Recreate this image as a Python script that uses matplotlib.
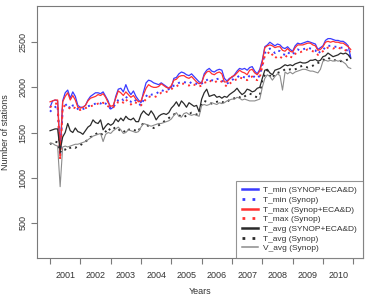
import numpy as np
import matplotlib
matplotlib.use("Agg")
import matplotlib.pyplot as plt

years = [2001, 2002, 2003, 2004, 2005, 2006, 2007, 2008, 2009, 2010]

tmin_all = [1780, 1850, 1860, 1850, 1300, 1850, 1940, 1970, 1880, 1950, 1900, 1800,
            1780, 1780, 1800, 1860, 1900, 1920, 1940, 1940, 1930, 1950, 1900, 1850,
            1760, 1780, 1900, 1980, 1990, 1950, 2030, 1960, 1920, 1960, 1900, 1860,
            1830, 1950, 2050, 2080, 2070, 2050, 2040, 2030, 2050, 2030, 2010, 1990,
            2000, 2100, 2110, 2150, 2170, 2160, 2140, 2130, 2150, 2120, 2090, 2060,
            2050, 2150, 2190, 2210, 2180, 2170, 2190, 2200, 2190, 2100, 2070, 2100,
            2110, 2140, 2180, 2210, 2200, 2210, 2190, 2220, 2230, 2180, 2150, 2200,
            2300, 2450, 2470, 2500, 2480, 2460, 2480, 2470, 2440, 2430, 2450, 2420,
            2400, 2460, 2490, 2480, 2490, 2500, 2510, 2500, 2490, 2480, 2420, 2440,
            2460, 2520, 2540, 2540, 2530, 2520, 2520, 2510, 2510, 2490, 2460, 2330]

tmin_syn = [1730, 1760, 1780, 1800, 1240, 1760, 1800, 1820, 1760, 1800, 1790, 1760,
            1750, 1760, 1770, 1790, 1800, 1810, 1820, 1830, 1820, 1840, 1820, 1800,
            1760, 1780, 1820, 1860, 1880, 1860, 1900, 1860, 1840, 1870, 1850, 1820,
            1800, 1860, 1900, 1930, 1920, 1920, 1930, 1950, 1970, 1960, 1970, 1980,
            1990, 2020, 2030, 2050, 2060, 2060, 2050, 2040, 2060, 2050, 2040, 2030,
            2040, 2070, 2080, 2100, 2080, 2070, 2090, 2100, 2080, 2050, 2040, 2060,
            2080, 2100, 2110, 2130, 2120, 2110, 2100, 2130, 2140, 2110, 2100, 2130,
            2250, 2380, 2400, 2430, 2410, 2380, 2410, 2400, 2370, 2360, 2390, 2370,
            2360, 2400, 2420, 2410, 2420, 2430, 2440, 2430, 2420, 2410, 2370, 2400,
            2410, 2450, 2460, 2460, 2450, 2450, 2450, 2440, 2440, 2420, 2400, 2320]

tmax_all = [1840, 1850, 1860, 1860, 1220, 1840, 1900, 1940, 1860, 1910, 1860, 1780,
            1770, 1780, 1800, 1850, 1880, 1890, 1900, 1920, 1910, 1930, 1890, 1830,
            1790, 1800, 1880, 1960, 1940, 1910, 1950, 1920, 1890, 1910, 1870, 1840,
            1850, 1920, 1990, 2030, 2010, 2000, 2000, 2010, 2040, 2020, 2000, 1990,
            2020, 2080, 2090, 2120, 2130, 2130, 2110, 2100, 2120, 2090, 2060, 2040,
            2050, 2130, 2170, 2180, 2150, 2140, 2160, 2170, 2150, 2060, 2060, 2090,
            2120, 2130, 2160, 2190, 2170, 2160, 2140, 2190, 2200, 2160, 2140, 2180,
            2280, 2440, 2460, 2470, 2460, 2440, 2450, 2450, 2410, 2400, 2430, 2400,
            2390, 2440, 2470, 2470, 2470, 2480, 2490, 2490, 2470, 2460, 2410, 2420,
            2450, 2500, 2510, 2500, 2510, 2500, 2500, 2490, 2490, 2470, 2450, 2420]

tmax_syn = [1780, 1800, 1820, 1820, 1200, 1780, 1800, 1790, 1760, 1780, 1770, 1750,
            1750, 1760, 1770, 1780, 1790, 1800, 1810, 1820, 1810, 1830, 1810, 1790,
            1770, 1780, 1800, 1840, 1850, 1830, 1870, 1830, 1810, 1840, 1830, 1810,
            1800, 1840, 1870, 1900, 1890, 1890, 1900, 1920, 1940, 1940, 1950, 1960,
            1980, 2000, 2010, 2030, 2040, 2040, 2030, 2020, 2040, 2030, 2020, 2010,
            2020, 2050, 2060, 2080, 2060, 2050, 2070, 2080, 2060, 2030, 2010, 2040,
            2060, 2080, 2090, 2110, 2100, 2090, 2080, 2110, 2120, 2090, 2080, 2110,
            2230, 2350, 2370, 2400, 2360, 2320, 2350, 2340, 2320, 2330, 2360, 2340,
            2330, 2370, 2390, 2390, 2400, 2410, 2420, 2410, 2400, 2390, 2360, 2380,
            2400, 2430, 2440, 2440, 2430, 2440, 2440, 2430, 2420, 2410, 2390, 2400]

tavg_all = [1520, 1530, 1540, 1540, 1300, 1450, 1500, 1600, 1520, 1500, 1550, 1510,
            1500, 1480, 1520, 1560, 1580, 1640, 1610, 1600, 1640, 1530, 1570, 1600,
            1580, 1600, 1650, 1620, 1660, 1630, 1680, 1650, 1640, 1660, 1620, 1620,
            1700, 1740, 1710, 1690, 1740, 1700, 1640, 1680, 1700, 1710, 1700, 1720,
            1770, 1800, 1840, 1790, 1850, 1820, 1780, 1830, 1810, 1790, 1800, 1730,
            1870, 1940, 1980, 1900, 1910, 1920, 1890, 1900, 1880, 1900, 1890, 1920,
            1940, 1960, 1990, 1950, 1920, 1940, 1980, 1970, 1950, 1960, 1990, 2000,
            2100, 2190, 2200, 2160, 2140, 2190, 2200, 2210, 2230, 2250, 2240, 2250,
            2240, 2260, 2270, 2280, 2270, 2270, 2280, 2300, 2300, 2310, 2290, 2300,
            2340, 2350, 2380, 2360, 2340, 2350, 2360, 2380, 2370, 2380, 2360, 2320]

tavg_syn = [1370, 1390, 1400, 1390, 1280, 1320, 1310, 1340, 1330, 1340, 1330, 1350,
            1360, 1380, 1400, 1420, 1450, 1460, 1480, 1500, 1490, 1470, 1510, 1550,
            1520, 1540, 1560, 1540, 1510, 1520, 1500, 1530, 1540, 1530, 1520, 1510,
            1580, 1600, 1590, 1570, 1560, 1550, 1560, 1580, 1600, 1620, 1640, 1660,
            1680, 1700, 1710, 1690, 1680, 1670, 1690, 1700, 1720, 1710, 1700, 1700,
            1820, 1850, 1840, 1830, 1820, 1830, 1840, 1850, 1840, 1830, 1840, 1860,
            1870, 1880, 1900, 1890, 1880, 1900, 1920, 1930, 1920, 1900, 1890, 1910,
            2080, 2140, 2190, 2130, 2100, 2150, 2160, 2170, 2180, 2200, 2190, 2200,
            2190, 2200, 2210, 2230, 2240, 2230, 2220, 2230, 2240, 2260, 2270, 2280,
            2300, 2320, 2330, 2310, 2300, 2300, 2300, 2290, 2290, 2300, 2310, 2300]

vavg_syn = [1380, 1380, 1360, 1350, 900, 1340, 1350, 1340, 1350, 1360, 1370, 1370,
            1380, 1390, 1400, 1420, 1440, 1460, 1470, 1480, 1490, 1400, 1480, 1500,
            1490, 1520, 1540, 1560, 1530, 1490, 1500, 1530, 1520, 1510, 1500, 1510,
            1560, 1600, 1590, 1580, 1570, 1580, 1590, 1600, 1600, 1610, 1620, 1630,
            1650, 1690, 1720, 1680, 1670, 1710, 1720, 1700, 1690, 1700, 1690, 1680,
            1800, 1810, 1800, 1810, 1830, 1820, 1810, 1830, 1820, 1830, 1850, 1860,
            1870, 1870, 1890, 1880, 1860, 1870, 1860, 1850, 1850, 1850, 1860, 1870,
            2000, 2100, 2140, 2120, 2080, 2120, 2150, 2130, 1970, 2170, 2150, 2170,
            2150, 2170, 2180, 2190, 2200, 2200, 2190, 2180, 2180, 2170, 2160, 2200,
            2290, 2300, 2290, 2300, 2290, 2300, 2290, 2300, 2280, 2260, 2220, 2210]

labels = ["T_min (SYNOP+ECA&D)", "T_min (Synop)", "T_max (Synop+ECA&D)", "T_max (Synop)",
          "T_avg (SYNOP+ECA&D)", "T_avg (Synop)", "V_avg (Synop)"]
yticks = [500, 1000, 1500, 2000, 2500]

plt.rcParams['font.family'] = ['Liberation Sans', 'DejaVu Sans']

n = len(tmin_all)
t = years[0] + np.arange(n) / 12.0

fig = plt.figure(figsize=(3.7, 2.96), dpi=100)
ax = fig.add_axes([0.1, 0.128, 0.881, 0.852])

blue = '#3a3aff'
red = '#ff3030'
gray = '#8c8c8c'
dark = '#2a2a2a'

dot_plot = (0, (1, 2.2))
dot_leg = (0, (1, 2.6))
series = [
    (tmin_all, blue, '-', 0.9),
    (tmin_syn, blue, dot_plot, 1.4),
    (tmax_all, red, '-', 0.9),
    (tmax_syn, red, dot_plot, 1.4),
    (tavg_all, dark, '-', 0.9),
    (tavg_syn, dark, dot_plot, 1.4),
    (vavg_syn, gray, '-', 0.8),
]
handles = []
for (vals, c, ls, lw), lab in zip(series, labels):
    ax.plot(t, vals, color=c, ls=ls, lw=lw)
    if ls == '-':
        hls, hlw = '-', 1.8
    else:
        hls, hlw = dot_leg, 2.0
    if lab.startswith('V_avg'):
        hlw = 1.1
    h, = ax.plot([], [], color=c, ls=hls, lw=hlw, label=lab)
    handles.append(h)

ax.set_xlim(2000.57, 2011.32)
ax.set_ylim(109, 2902)

edge = '#7a7a7a'
for s in ax.spines.values():
    s.set_color(edge)
    s.set_linewidth(0.8)

ax.set_xticks(np.arange(years[0], years[-1] + 2))
ax.set_xticklabels([])
ax.set_xticks(np.array(years) + 0.5, minor=True)
ax.set_xticklabels([str(y) for y in years], minor=True, fontsize=6.5, color='#333333')
ax.tick_params(axis='x', which='major', length=4, width=0.8, color=edge, direction='out')
ax.tick_params(axis='x', which='minor', length=0, pad=9)

ax.set_yticks(yticks)
ax.set_yticklabels([str(v) for v in yticks], rotation=90, va='center', fontsize=6.5, color='#333333')
ax.tick_params(axis='y', length=4, width=0.8, color=edge, direction='out', pad=3)

ax.set_ylabel("Number of stations", fontsize=6.5, color='#333333', labelpad=6)
ax.set_xlabel("Years", fontsize=6.5, color='#333333', labelpad=5)

leg = ax.legend(handles=handles, loc='lower right', borderaxespad=0, fontsize=6,
                frameon=True, fancybox=False, edgecolor=edge, handlelength=2.0,
                handletextpad=0.6, labelspacing=0.22, borderpad=0.7)
leg.get_frame().set_linewidth(0.8)
for txt in leg.get_texts():
    txt.set_color('#333333')

fig.savefig("out.png", dpi=100)
